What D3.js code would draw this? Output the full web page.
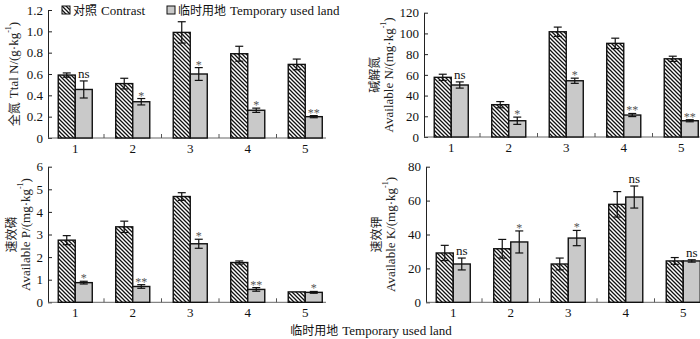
<!DOCTYPE html>
<html>
<head>
<meta charset="utf-8">
<script src="https://cdn.jsdelivr.net/npm/d3@7"></script>
<style>
  html, body { margin: 0; padding: 0; background: #fff; }
  svg { display: block; }
</style>
</head>
<body>
<div id="chart"></div>
<script>
const categories = ['1', '2', '3', '4', '5'];

const totalNContrast = [0.59, 0.51, 0.99, 0.79, 0.69];
const totalNContrastErr = [0.02, 0.05, 0.10, 0.07, 0.05];
const totalNTemp = [0.455, 0.34, 0.60, 0.26, 0.20];
const totalNTempErr = [0.08, 0.03, 0.06, 0.02, 0.01];
const totalNSig = ['ns', '*', '*', '*', '**'];

const availNContrast = [57.6, 31.2, 101.6, 90.4, 75.5];
const availNContrastErr = [3, 3, 4.5, 5, 2.5];
const availNTemp = [50.2, 15.7, 54.3, 21.2, 15.7];
const availNTempErr = [3, 3.5, 2.5, 1.5, 1];
const availNSig = ['ns', '*', '*', '**', '**'];

const availPContrast = [2.75, 3.34, 4.68, 1.76, 0.46];
const availPContrastErr = [0.2, 0.25, 0.17, 0.07, 0];
const availPTemp = [0.87, 0.70, 2.59, 0.57, 0.44];
const availPTempErr = [0.06, 0.08, 0.2, 0.08, 0.04];
const availPSig = ['*', '**', '*', '**', '*'];

const availKContrast = [29.1, 31.6, 22.6, 57.8, 24.4];
const availKContrastErr = [4.5, 5.5, 3.5, 7.5, 2];
const availKTemp = [22.6, 35.6, 37.9, 62.1, 24.4];
const availKTempErr = [3.5, 6.5, 4.5, 6.5, 0.7];
const availKSig = ['ns', '*', '*', 'ns', 'ns'];

const width = 700;
const height = 339;
const LATIN = '"Liberation Serif", "DejaVu Serif", serif';
const CJK = '"Noto Sans CJK SC", sans-serif';
const TEMP_FILL = '#c9c9c9';

const svg = d3.select('#chart').append('svg')
  .attr('width', width).attr('height', height)
  .attr('viewBox', `0 0 ${width} ${height}`);

svg.append('rect').attr('width', width).attr('height', height).attr('fill', '#fff');

const defs = svg.append('defs');
defs.append('pattern')
  .attr('id', 'hatch')
  .attr('patternUnits', 'userSpaceOnUse')
  .attr('width', 4).attr('height', 4)
  .call((p) => {
    p.append('rect').attr('width', 4).attr('height', 4).attr('fill', '#fff');
    p.append('path')
      .attr('d', 'M-1,-1 L5,5 M3,-1 L5,1 M-1,3 L1,5')
      .attr('stroke', '#111').attr('stroke-width', 1.3);
  });

// helper for "label/(unit·kg-1)" style text with superscript
function unitText(sel, before, unit) {
  sel.append('tspan').text(before + '/(' + unit + '·kg');
  sel.append('tspan').attr('font-size', 8).attr('dy', -5).text('-1');
  sel.append('tspan').attr('dy', 5).text(')');
}

function panel({ x0, axisEnd, y0, y1, max, step, fmt, contrast, contrastErr, temp, tempErr, sig, title }) {
  const g = svg.append('g');
  const x = d3.scaleBand().domain(categories).range([x0 - 1.5, x0 - 1.5 + 287.5]);
  const sub = d3.scaleBand().domain(['c', 't']).range([0, x.bandwidth()]).paddingOuter(0.69);
  const y = d3.scaleLinear().domain([0, max]).range([y0, y1]);

  // y axis, ticks pointing inward
  const yAxis = g.append('g')
    .attr('transform', `translate(${x0},0)`)
    .call(d3.axisLeft(y).tickValues(d3.range(0, max + step / 2, step))
      .tickSizeInner(-4).tickSizeOuter(0).tickPadding(5).tickFormat(fmt));
  yAxis.select('.domain').attr('stroke', '#222');
  yAxis.selectAll('.tick line').attr('stroke', '#222');
  yAxis.selectAll('.tick text').attr('font-family', LATIN).attr('font-size', 13).attr('fill', '#111');

  // x axis line with separator ticks
  g.append('line').attr('x1', x0).attr('x2', axisEnd).attr('y1', y0).attr('y2', y0)
    .attr('stroke', '#666').attr('stroke-width', 1);
  categories.slice(1).forEach((c) => {
    g.append('line').attr('x1', x(c)).attr('x2', x(c)).attr('y1', y0).attr('y2', y0 - 4)
      .attr('stroke', '#555');
  });
  categories.forEach((c) => {
    g.append('text').attr('x', x(c) + x.bandwidth() / 2).attr('y', y0 + 15)
      .attr('text-anchor', 'middle').attr('font-family', LATIN).attr('font-size', 13)
      .attr('fill', '#111').text(c);
  });

  const series = [
    { key: 'c', vals: contrast, errs: contrastErr, fill: 'url(#hatch)' },
    { key: 't', vals: temp, errs: tempErr, fill: TEMP_FILL },
  ];
  series.forEach((s) => {
    categories.forEach((c, i) => {
      const bx = x(c) + sub(s.key);
      const bw = sub.bandwidth();
      g.append('rect')
        .attr('x', bx).attr('y', y(s.vals[i]))
        .attr('width', bw).attr('height', y0 - y(s.vals[i]))
        .attr('fill', s.fill).attr('stroke', '#111').attr('stroke-width', 1.4);
      if (s.errs[i] > 0) {
        const cx = bx + bw / 2;
        const top = y(s.vals[i] + s.errs[i]);
        const bot = y(s.vals[i] - s.errs[i]);
        g.append('line').attr('x1', cx).attr('x2', cx).attr('y1', top).attr('y2', bot)
          .attr('stroke', '#111').attr('stroke-width', 1.2);
        [top, bot].forEach((yy) => {
          g.append('line').attr('x1', cx - 4).attr('x2', cx + 4).attr('y1', yy).attr('y2', yy)
            .attr('stroke', '#111').attr('stroke-width', 1.2);
        });
      }
    });
  });

  // significance marks above the temporary-land bars
  categories.forEach((c, i) => {
    const cx = x(c) + sub('t') + sub.bandwidth() / 2;
    const top = y(temp[i] + tempErr[i]);
    const isNs = sig[i] === 'ns';
    g.append('text')
      .attr('x', cx).attr('y', isNs ? top - 3 : top + 1)
      .attr('text-anchor', 'middle').attr('font-family', LATIN).attr('font-size', isNs ? 13 : 12)
      .attr('fill', isNs ? '#111' : '#555').text(sig[i]);
  });

  // y title
  const cy = (y0 + y1) / 2;
  title.forEach((ln) => {
    const t = g.append('text')
      .attr('transform', `translate(${ln.x},${cy}) rotate(-90)`)
      .attr('text-anchor', 'middle').attr('dominant-baseline', 'central')
      .attr('font-size', 13).attr('fill', '#222');
    if (ln.cjk) t.append('tspan').attr('font-family', CJK).attr('font-size', 12).text(ln.cjk);
    if (ln.latin) {
      const lt = t.append('tspan').attr('font-family', LATIN);
      if (ln.cjk) lt.attr('dx', 4);
      unitText(lt, ln.latin, ln.unit);
    }
  });
}

const fmt1 = (d) => (d === 0 ? '0' : d3.format('.1f')(d));

panel({
  x0: 48, axisEnd: 326, y0: 138, y1: 10, max: 1.2, step: 0.2, fmt: fmt1,
  contrast: totalNContrast, contrastErr: totalNContrastErr,
  temp: totalNTemp, tempErr: totalNTempErr, sig: totalNSig,
  title: [{ x: 13, cjk: '全氮', latin: 'Ttal N', unit: 'g' }],
});

panel({
  x0: 424, axisEnd: 705, y0: 137, y1: 12.7, max: 120, step: 20, fmt: d3.format('d'),
  contrast: availNContrast, contrastErr: availNContrastErr,
  temp: availNTemp, tempErr: availNTempErr, sig: availNSig,
  title: [{ x: 373, cjk: '碱解氮' }, { x: 388, latin: 'Available N', unit: 'mg' }],
});

panel({
  x0: 48, axisEnd: 326, y0: 302.3, y1: 166.7, max: 6, step: 1, fmt: d3.format('d'),
  contrast: availPContrast, contrastErr: availPContrastErr,
  temp: availPTemp, tempErr: availPTempErr, sig: availPSig,
  title: [{ x: 10, cjk: '速效磷' }, { x: 25, latin: 'Available P', unit: 'mg' }],
});

panel({
  x0: 426, axisEnd: 705, y0: 302.3, y1: 166.7, max: 80, step: 20, fmt: d3.format('d'),
  contrast: availKContrast, contrastErr: availKContrastErr,
  temp: availKTemp, tempErr: availKTempErr, sig: availKSig,
  title: [{ x: 375, cjk: '速效钾' }, { x: 390, latin: 'Available K', unit: 'mg' }],
});

// legend
const legendItems = [
  { x: 62, fill: 'url(#hatch)', cjk: '对照', latin: 'Contrast' },
  { x: 167, fill: TEMP_FILL, cjk: '临时用地', latin: 'Temporary used land' },
];
legendItems.forEach((it) => {
  svg.append('rect').attr('x', it.x).attr('y', 6).attr('width', 8).attr('height', 8)
    .attr('fill', it.fill).attr('stroke', '#111').attr('stroke-width', 1);
  const t = svg.append('text').attr('x', it.x + 11).attr('y', 15).attr('font-size', 13).attr('fill', '#111');
  t.append('tspan').attr('font-family', CJK).attr('font-size', 12).text(it.cjk);
  t.append('tspan').attr('font-family', LATIN).attr('dx', 4).text(it.latin);
});

// shared x title
const xt = svg.append('text').attr('x', 371).attr('y', 335).attr('text-anchor', 'middle')
  .attr('font-size', 13).attr('fill', '#111');
xt.append('tspan').attr('font-family', CJK).attr('font-size', 12).text('临时用地');
xt.append('tspan').attr('font-family', LATIN).attr('dx', 4).text('Temporary used land');
</script>
</body>
</html>
